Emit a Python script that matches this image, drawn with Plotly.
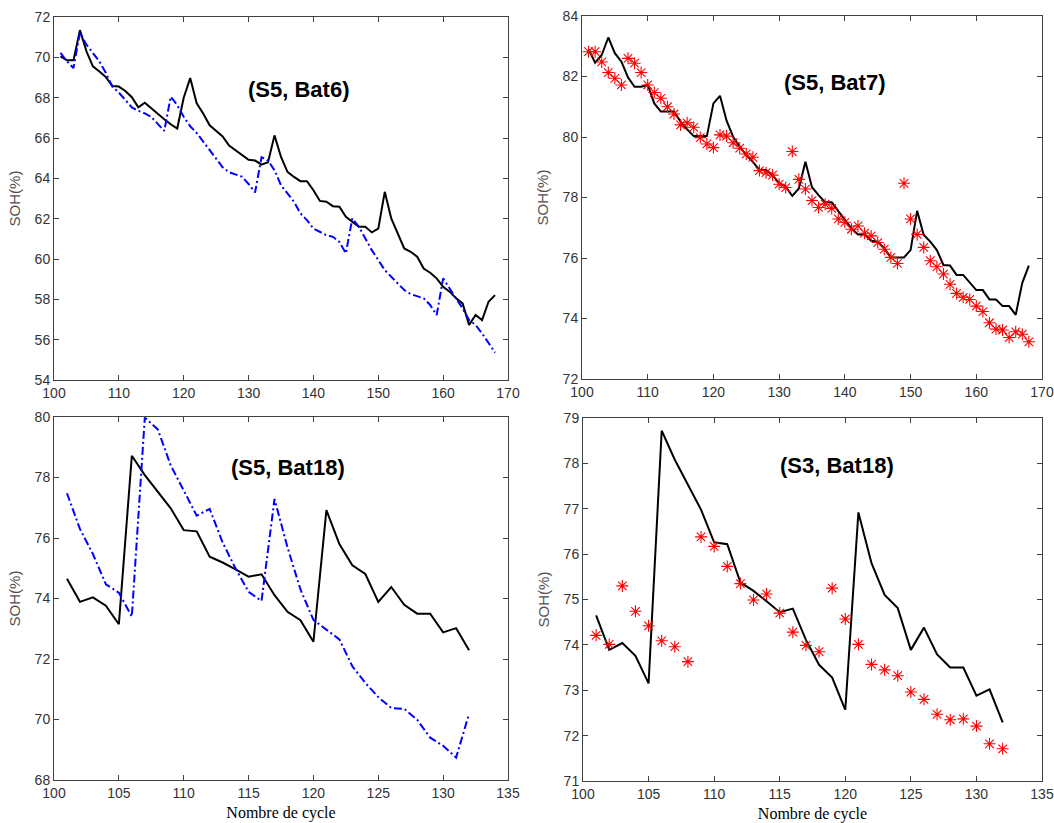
import plotly.graph_objects as go

# ---- data -------------------------------------------------------------
cycles_long = list(range(101, 169))
cycles_short = list(range(101, 133))

# (S5, Bat6)
bat6_mesure = [70.05, 69.85, 69.85, 71.35, 70.3, 69.55, 69.3, 69.02, 68.58, 68.55,
               68.33, 68.02, 67.52, 67.75, 67.47, 67.18, 66.93, 66.68, 66.47, 68.0,
               68.97, 67.72, 67.22, 66.63, 66.35, 66.08, 65.63, 65.38, 65.13, 64.92,
               64.88, 64.68, 64.8, 66.13, 65.06, 64.32, 64.07, 63.86, 63.86, 63.41,
               62.88, 62.84, 62.62, 62.59, 62.09, 61.84, 61.6, 61.6, 61.32, 61.51,
               63.33, 62.01, 61.27, 60.52, 60.36, 60.11, 59.53, 59.32, 59.04, 58.62,
               58.38, 58.05, 57.8, 56.73, 57.22, 56.97, 57.88, 58.21]
bat6_estime = [70.22, 69.8, 69.47, 71.22, 70.63, 70.22, 69.8, 69.22, 68.55, 68.25,
               67.88, 67.52, 67.35, 67.22, 67.05, 66.72, 66.35, 68.05, 67.63, 67.05,
               66.58, 66.25, 65.83, 65.38, 64.97, 64.55, 64.3, 64.18, 64.08, 63.72,
               63.3, 65.05, 64.88, 64.4, 63.66, 63.25, 62.84, 62.26, 61.93, 61.51,
               61.35, 61.18, 61.1, 60.85, 60.28, 62.01, 61.6, 61.02, 60.44, 59.95,
               59.45, 59.12, 58.79, 58.46, 58.26, 58.16, 58.05, 57.72, 57.22, 59.04,
               58.54, 58.05, 57.55, 56.97, 56.73, 56.31, 55.82, 55.36]

# (S5, Bat7)
bat7_mesure = [82.9, 82.46, 82.71, 83.29, 82.77, 82.49, 81.97, 81.66, 81.66, 81.72,
               81.11, 80.84, 80.84, 80.84, 80.51, 80.25, 80.03, 80.03, 80.03, 81.11,
               81.36, 80.54, 80.01, 79.68, 79.4, 79.18, 78.91, 78.91, 78.74, 78.47,
               78.36, 78.05, 78.3, 79.18, 78.34, 78.08, 77.84, 77.84, 77.53, 77.26,
               76.98, 76.78, 76.78, 76.57, 76.54, 76.32, 76.02, 76.02, 76.02, 76.26,
               77.56, 76.76, 76.54, 76.26, 75.77, 75.75, 75.44, 75.44, 75.18, 74.94,
               74.94, 74.63, 74.63, 74.41, 74.41, 74.12, 75.18, 75.75]
bat7_estime = [82.82, 82.82, 82.48, 82.13, 81.94, 81.72, 82.6, 82.44, 82.13, 81.72,
               81.47, 81.28, 81.0, 80.76, 80.4, 80.47, 80.32, 79.98, 79.77, 79.65,
               80.07, 80.03, 79.81, 79.63, 79.44, 79.33, 78.89, 78.82, 78.74, 78.44,
               78.33, 79.52, 78.6, 78.28, 77.9, 77.67, 77.78, 77.64, 77.29, 77.18,
               76.95, 77.06, 76.82, 76.73, 76.51, 76.29, 76.02, 75.82, 78.47, 77.29,
               76.78, 76.35, 75.91, 75.71, 75.47, 75.13, 74.83, 74.7, 74.63, 74.41,
               74.23, 73.86, 73.65, 73.62, 73.37, 73.56, 73.48, 73.23]

# Bat18 (same measured curve for S5 and S3)
bat18_mesure = [74.65, 73.89, 74.04, 73.76, 73.15, 78.72, 78.08, 77.53, 76.98, 76.26,
                76.22, 75.38, 75.19, 74.96, 74.72, 74.8, 74.11, 73.56, 73.28, 72.57,
                76.92, 75.8, 75.1, 74.81, 73.89, 74.38, 73.79, 73.5, 73.5, 72.88,
                73.02, 72.29]
bat18_s5_estime = [77.48, 76.3, 75.47, 74.47, 74.19, 73.4, 79.98, 79.59, 78.4, 77.57,
                   76.74, 76.96, 75.85, 74.99, 74.22, 73.92, 77.29, 75.69, 74.3, 73.29,
                   72.98, 72.65, 71.76, 71.21, 70.74, 70.38, 70.35, 69.99, 69.4, 69.13,
                   68.74, 70.19]
bat18_s3_estime = [74.21, 74.01, 75.3, 74.74, 74.42, 74.09, 73.96, 73.63, 76.38, 76.17,
                   75.73, 75.35, 74.99, 75.12, 74.7, 74.28, 73.99, 73.85, 75.25, 74.57,
                   74.01, 73.57, 73.45, 73.32, 72.96, 72.8, 72.47, 72.35, 72.37, 72.21,
                   71.82, 71.71]

panel_titles = ["(S5, Bat6)", "(S5, Bat7)", "(S5, Bat18)", "(S3, Bat18)"]

# ---- figure -----------------------------------------------------------
W, H = 1054, 823
fig = go.Figure()

black = dict(color="black", width=2)
blue = dict(color="#0000ff", width=2, dash="8px,3px,2px,3px")
stars = dict(symbol="asterisk-open", size=10, color="red",
             line=dict(color="#ff1a1a", width=1.1))

# panel 1
fig.add_trace(go.Scatter(x=cycles_long, y=bat6_mesure, mode="lines", line=black,
                         xaxis="x", yaxis="y"))
fig.add_trace(go.Scatter(x=cycles_long, y=bat6_estime, mode="lines", line=blue,
                         xaxis="x", yaxis="y"))
# panel 2
fig.add_trace(go.Scatter(x=cycles_long, y=bat7_mesure, mode="lines", line=black,
                         xaxis="x2", yaxis="y2"))
fig.add_trace(go.Scatter(x=cycles_long, y=bat7_estime, mode="markers", marker=stars,
                         xaxis="x2", yaxis="y2"))
# panel 3
fig.add_trace(go.Scatter(x=cycles_short, y=bat18_mesure, mode="lines", line=black,
                         xaxis="x3", yaxis="y3"))
fig.add_trace(go.Scatter(x=cycles_short, y=bat18_s5_estime, mode="lines", line=blue,
                         xaxis="x3", yaxis="y3"))
# panel 4
fig.add_trace(go.Scatter(x=cycles_short, y=bat18_mesure, mode="lines", line=black,
                         xaxis="x4", yaxis="y4"))
fig.add_trace(go.Scatter(x=cycles_short, y=bat18_s3_estime, mode="markers", marker=stars,
                         xaxis="x4", yaxis="y4"))


def px_dom(a, b, total, flip=False):
    if flip:
        return [1 - b / total, 1 - a / total]
    return [a / total, b / total]


# plot-area boxes in pixels: (left, right, top, bottom)
boxes = [(54, 508, 17, 380), (582, 1042, 16, 379), (54, 508, 417, 780), (583, 1042, 418, 781)]
xranges = [[100, 170], [100, 170], [100, 135], [100, 135]]
xdticks = [10, 10, 5, 5]
yranges = [[54, 72], [72, 84], [68, 80], [71, 79]]
ydticks = [2, 2, 2, 1]

axis_color = "#404040"
tick_font = dict(family="Liberation Sans, Arial", size=14, color="#333333")

layout = dict(width=W, height=H, margin=dict(l=0, r=0, t=0, b=0),
              paper_bgcolor="white", plot_bgcolor="white", showlegend=False)

annotations = []
for i, (l, r, t, b) in enumerate(boxes):
    sfx = "" if i == 0 else str(i + 1)
    xa = dict(domain=px_dom(l, r, W), range=xranges[i], dtick=xdticks[i], tick0=100,
              showgrid=False, zeroline=False, showline=True, linecolor=axis_color,
              linewidth=1, mirror="ticks", ticks="inside", ticklen=5,
              tickcolor=axis_color, tickfont=tick_font, anchor="y" + sfx,
              automargin=False)
    ya = dict(domain=px_dom(t, b, H, flip=True), range=yranges[i], dtick=ydticks[i],
              showgrid=False, zeroline=False, showline=True, linecolor=axis_color,
              linewidth=1, mirror="ticks", ticks="inside", ticklen=5,
              tickcolor=axis_color, tickfont=tick_font, anchor="x" + sfx,
              automargin=False,
              title=dict(text="SOH(%)", standoff=10,
                         font=dict(family="Liberation Sans, Arial", size=15,
                                   color="#505050")))
    if i >= 2:
        xa["title"] = dict(text="Nombre de cycle", standoff=7,
                           font=dict(family="Liberation Serif, Times New Roman",
                                     size=16, color="black"))
    layout["xaxis" + sfx] = xa
    layout["yaxis" + sfx] = ya

# panel labels
title_pos = [(298, 90), (834, 83), (288, 468), (837, 465)]
for txt, (cx, cy) in zip(panel_titles, title_pos):
    annotations.append(dict(text="<b>" + txt + "</b>", x=cx / W, y=1 - cy / H,
                            xref="paper", yref="paper", showarrow=False,
                            xanchor="center", yanchor="middle",
                            font=dict(family="Liberation Sans, Arial", size=22,
                                      color="black")))
layout["annotations"] = annotations

fig.update_layout(**layout)
fig.write_html("out.html")
